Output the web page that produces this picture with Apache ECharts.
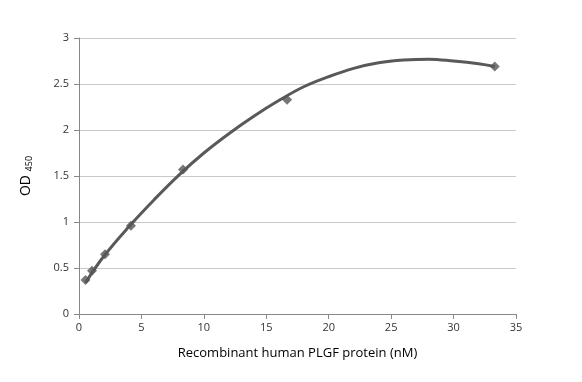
<!DOCTYPE html>
<html><head><meta charset="utf-8">
<script src="https://cdn.jsdelivr.net/npm/echarts@6/dist/echarts.min.js"></script>
<style>html,body{margin:0;padding:0;background:#fff}#c{width:582px;height:382px}</style>
</head><body><div id="c"></div>
<script>
// Measured points
const concentration = [0.52, 1.04, 2.08, 4.16, 8.33, 16.67, 33.3];
const od450 = [0.37, 0.47, 0.65, 0.96, 1.57, 2.33, 2.69];
// Trendline
const trendX = [0.52, 2, 4, 6, 8, 10, 12, 14, 16, 18, 20, 22, 24, 26, 28, 30, 32, 33.3];
const trendY = [0.34, 0.63, 0.95, 1.24, 1.51, 1.75, 1.96, 2.15, 2.32, 2.47, 2.58, 2.67, 2.73, 2.76, 2.77, 2.75, 2.72, 2.69];

const chart = echarts.init(document.getElementById('c'));
const font = '"Open Sans", "DejaVu Sans", sans-serif';
chart.setOption({
  animation: false,
  grid: {left: 79, right: 66, top: 38, bottom: 68},
  xAxis: {
    type: 'value', min: 0, max: 35, interval: 5,
    name: 'Recombinant human PLGF protein (nM)', nameLocation: 'middle', nameGap: 33,
    nameTextStyle: {fontFamily: font, fontSize: 13, color: '#000'},
    axisLine: {show: true, lineStyle: {color: '#888', width: 1}},
    axisTick: {show: true, length: 5, lineStyle: {color: '#888'}},
    axisLabel: {fontFamily: font, fontSize: 11, color: '#333', margin: 8},
    splitLine: {show: false}
  },
  yAxis: {
    type: 'value', min: 0, max: 3, interval: 0.5,
    name: '{a|OD }{b|450}', nameLocation: 'middle', nameGap: 45, nameRotate: 90,
    nameTextStyle: {
      rich: {
        a: {fontFamily: font, fontSize: 14, color: '#000'},
        b: {fontFamily: font, fontSize: 9, color: '#000', verticalAlign: 'bottom', padding: [6, 0, 0, 0]}
      }
    },
    axisLine: {show: true, lineStyle: {color: '#888', width: 1}},
    axisTick: {show: true, length: 5, lineStyle: {color: '#888'}},
    axisLabel: {fontFamily: font, fontSize: 11, color: '#333', margin: 10},
    splitLine: {show: true, lineStyle: {color: '#c8c8c8', width: 1}}
  },
  series: [
    {
      type: 'line', smooth: 0.4, symbol: 'none',
      data: trendX.map((x, i) => [x, trendY[i]]),
      lineStyle: {color: '#595959', width: 3}, z: 2
    },
    {
      type: 'scatter', symbol: 'diamond', symbolSize: 10,
      data: concentration.map((x, i) => [x, od450[i]]),
      itemStyle: {color: '#555'}, z: 3
    }
  ]
});
</script></body></html>
